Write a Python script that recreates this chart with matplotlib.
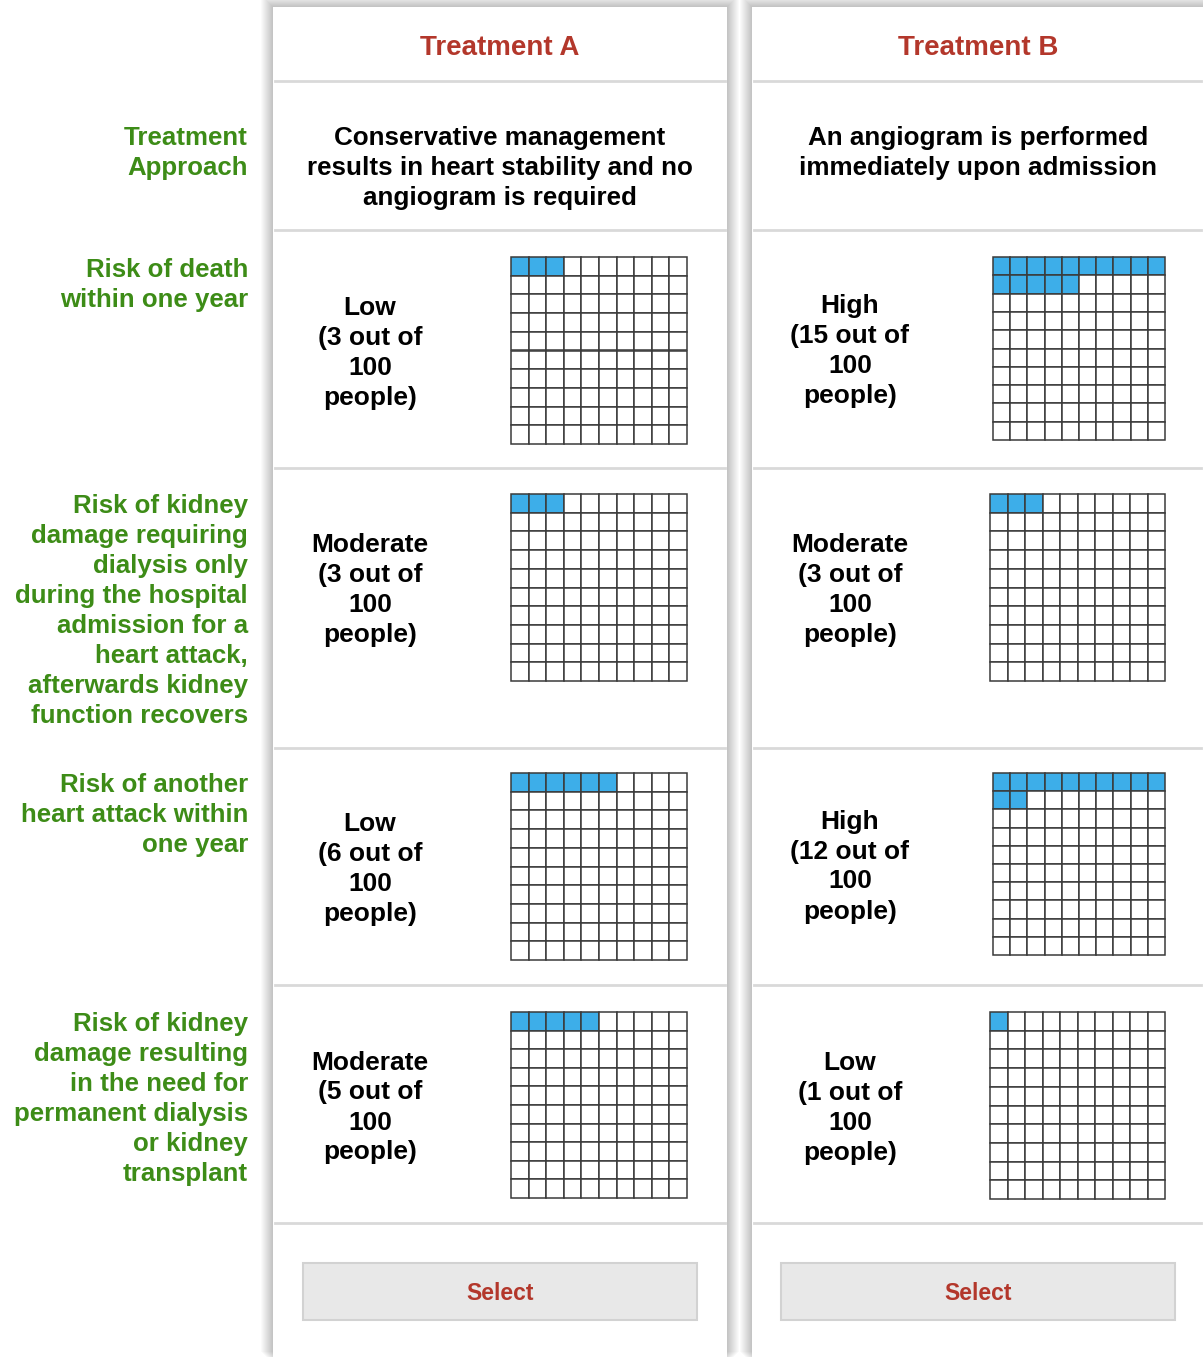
import numpy as np
import matplotlib.pyplot as plt
from matplotlib.patches import Rectangle

plt.rcParams['font.family'] = ['Liberation Sans', 'DejaVu Sans']

# data
treatments = ['Treatment A', 'Treatment B']
approach = ['Conservative management\nresults in heart stability and no\nangiogram is required',
            'An angiogram is performed\nimmediately upon admission']
row_labels = ['Treatment\nApproach',
              'Risk of death\nwithin one year',
              'Risk of kidney\ndamage requiring\ndialysis only\nduring the hospital\nadmission for a\nheart attack,\nafterwards kidney\nfunction recovers',
              'Risk of another\nheart attack within\none year',
              'Risk of kidney\ndamage resulting\nin the need for\npermanent dialysis\nor kidney\ntransplant']
risk_level_a = ['Low', 'Moderate', 'Low', 'Moderate']
risk_level_b = ['High', 'Moderate', 'High', 'Low']
count_a = [3, 3, 6, 5]
count_b = [15, 3, 12, 1]

RED = '#b3372b'
GREEN = '#3d8c17'
BLUE = '#3daee9'

W, H = 1203, 1357
fig = plt.figure(figsize=(W / 100, H / 100), dpi=100)
ax = fig.add_axes([0, 0, 1, 1])
ax.set_xlim(0, W)
ax.set_ylim(H, 0)
ax.axis('off')

def lines(x, yc, s, ha='center', color='black', size=18.7, step=30):
    # place each line on its own baseline so spacing stays even
    parts = s.split('\n')
    n = len(parts)
    off = 0.36 * size * 100 / 72
    for i, p in enumerate(parts):
        ax.text(x, yc + (i - (n - 1) / 2) * step + off, p, ha=ha, va='baseline',
                color=color, fontsize=size, fontweight='bold', zorder=5)

# panel geometry
panels = [(273, 727), (752, 1210)]
seps = [81, 230, 468, 748, 985, 1223]
label_mid = [151, 283, 609, 813, 1097]
grid_a = [(511, 257, 176, 187), (511, 494, 176, 187), (511, 773, 176, 187), (511, 1012, 176, 186)]
grid_b = [(993, 257, 172, 183), (990, 494, 175, 187), (993, 773, 172, 182), (990, 1012, 175, 187)]

for (x0, x1) in panels:
    # soft shadow
    for k in range(12, 0, -1):
        ax.add_patch(Rectangle((x0 - k, 7 - k), (x1 - x0) + 2 * k, H, facecolor='#000000',
                               alpha=0.02, edgecolor='none', zorder=1))
    ax.add_patch(Rectangle((x0, 7), x1 - x0, H, facecolor='white', edgecolor='none', zorder=2))
    for y in seps:
        ax.plot([x0 + 2, min(x1, W) - 2], [y, y], color='#d9d9d9', lw=2, zorder=3)

def grid(box, n):
    gx, gy, gw, gh = box
    cw, ch = gw / 10, gh / 10
    for k in range(100):
        r, c = divmod(k, 10)
        fc = BLUE if k < n else 'white'
        ax.add_patch(Rectangle((gx + c * cw, gy + r * ch), cw, ch, facecolor=fc,
                               edgecolor='#3a3a3a', lw=1.1, zorder=4))

cols = [(500, 370, risk_level_a, count_a, grid_a),
        (978, 850, risk_level_b, count_b, grid_b)]
for j, (cx, tx, levels, counts, grids) in enumerate(cols):
    lines(cx, 45, treatments[j], color=RED, size=20)
    lines(cx, 166 if j == 0 else 151, approach[j])
    for i in range(4):
        s = '%s\n(%d out of\n100\npeople)' % (levels[i], counts[i])
        gx, gy, gw, gh = grids[i]
        lines(tx, gy + gh / 2, s, size=19)
        grid(grids[i], counts[i])
    # button
    bx = cx - 197
    ax.add_patch(Rectangle((bx, 1263), 394, 57, facecolor='#e8e8e8', edgecolor='#d2d2d2',
                           lw=1.5, zorder=4))
    lines(cx, 1292, 'Select', color=RED, size=16.5)

for i, s in enumerate(row_labels):
    lines(248, label_mid[i], s, ha='right', color=GREEN, size=18.6)

fig.savefig('out.png', dpi=100)
